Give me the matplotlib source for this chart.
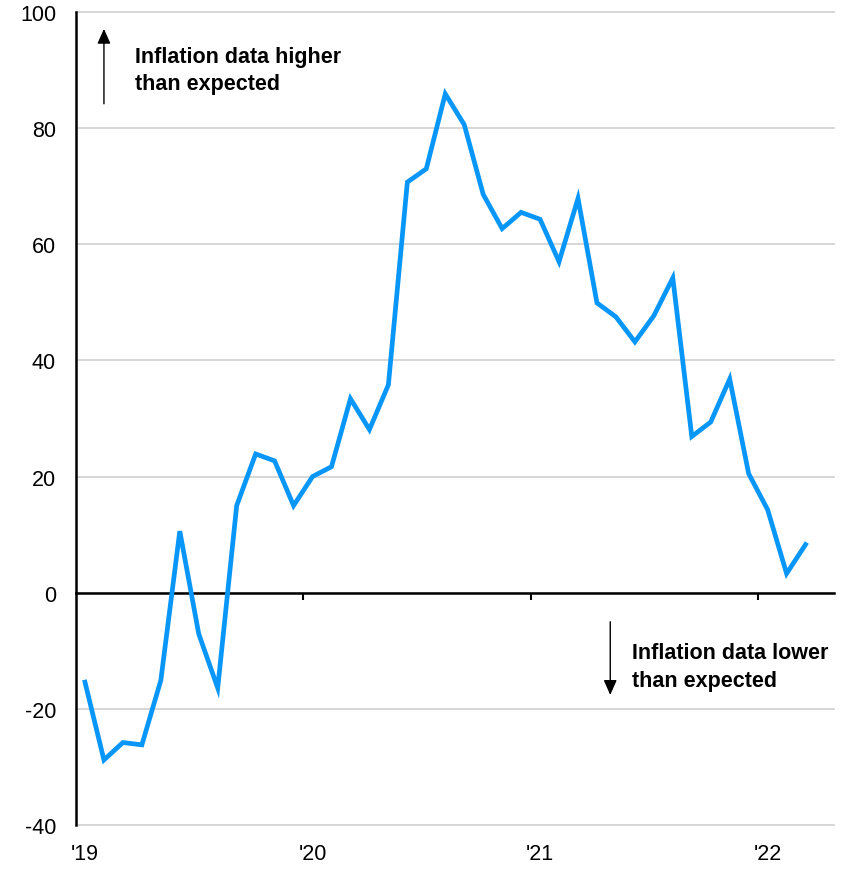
import matplotlib
matplotlib.use("Agg")
import matplotlib.pyplot as plt

plt.rcParams['font.family'] = ['Liberation Sans', 'DejaVu Sans']

# monthly surprise index, Jan 2019 .. Mar 2022
values = [-15.4, -28.8, -25.8, -26.2, -15.1, 10.6, -7.1, -16.4, 15.0, 23.9,
          22.7, 15.0, 20.0, 21.7, 33.4, 28.1, 35.8, 70.7, 73.0, 85.9,
          80.6, 68.6, 62.7, 65.5, 64.3, 57.0, 67.9, 49.9, 47.5, 43.2,
          47.7, 54.2, 26.9, 29.4, 36.8, 20.5, 14.3, 3.3, 8.3]
year_labels = ["'19", "'20", "'21", "'22"]
y_ticks = [-40, -20, 0, 20, 40, 60, 80, 100]

months = [i + 0.5 for i in range(len(values))]
year_starts = [12 * k for k in range(len(year_labels))]

fig = plt.figure(figsize=(8.52, 8.70), dpi=100)
ax = fig.add_axes([75.5 / 852, 1 - 826 / 870, (834 - 75.5) / 852, (826 - 13) / 870])

ax.set_xlim(0, 40)
ax.set_ylim(-40, 100)

for y in y_ticks:
    ax.axhline(y, color='#cfcfcf', lw=1.2, zorder=0, clip_on=False)

ax.plot(months, values, color='#0896F8', lw=3.4, solid_joinstyle='miter', zorder=3)

for s in ['top', 'right']:
    ax.spines[s].set_visible(False)
ax.spines['left'].set_linewidth(1.8)
ax.spines['bottom'].set_position(('data', 0))
ax.spines['bottom'].set_linewidth(1.8)
ax.spines['bottom'].set_zorder(2)

ax.set_yticks(y_ticks)
ax.set_yticklabels([str(v) for v in y_ticks])
ax.tick_params(axis='y', length=0, pad=14, labelsize=15.5)

ax.set_xticks(year_starts[1:])
ax.set_xticklabels([])
ax.tick_params(axis='x', direction='out', length=5, width=1.5)

sec = ax.secondary_xaxis(0)
sec.set_xticks([s + 0.5 for s in year_starts])
sec.set_xticklabels(year_labels)
sec.tick_params(length=0, pad=13, labelsize=15.5)
sec.spines['bottom'].set_visible(False)

arrow = dict(arrowstyle='-|>,head_length=0.9,head_width=0.4', color='black', lw=1.0,
             shrinkA=0, shrinkB=0)
ax.annotate('', xy=(1.5, 97.1), xytext=(1.5, 84.2), arrowprops=arrow)
ax.annotate('', xy=(28.2, -17.6), xytext=(28.2, -5.0), arrowprops=arrow)

ax.text(3.14, 90.0, 'Inflation data higher\nthan expected', fontsize=15.5,
        fontweight='bold', va='center', ha='left', linespacing=1.42)
ax.text(29.35, -12.7, 'Inflation data lower\nthan expected', fontsize=15.5,
        fontweight='bold', va='center', ha='left', linespacing=1.42)

fig.savefig('out.png', dpi=100)
